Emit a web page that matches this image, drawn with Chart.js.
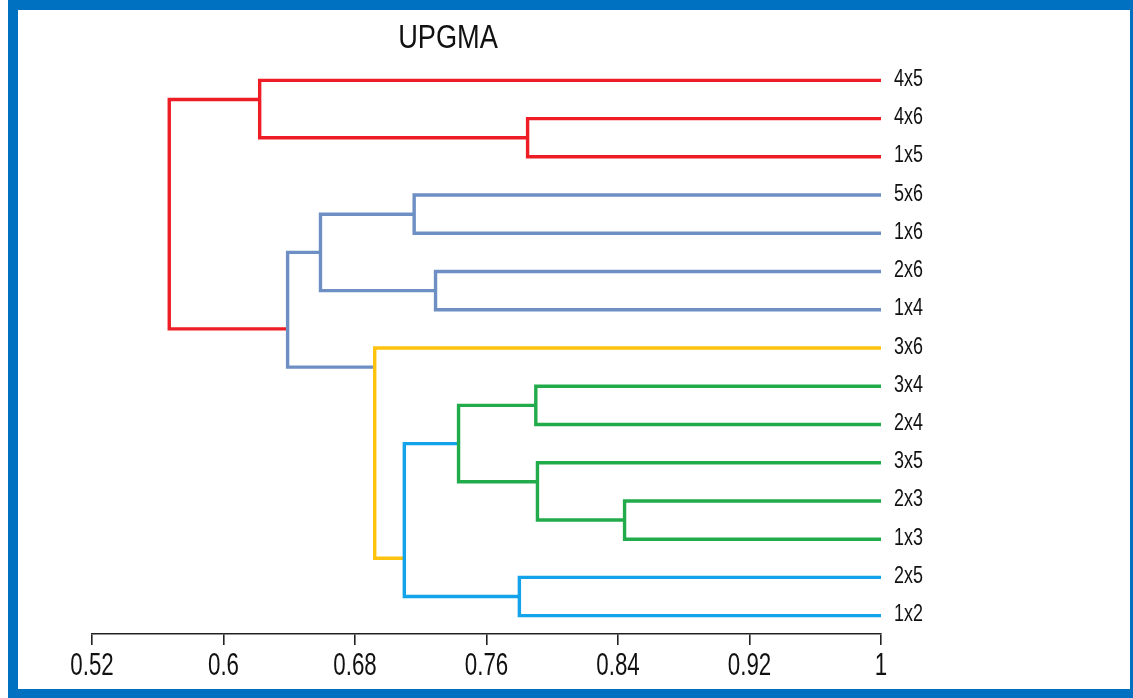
<!DOCTYPE html>
<html>
<head>
<meta charset="utf-8">
<script src="https://cdn.jsdelivr.net/npm/chart.js@4/dist/chart.umd.min.js"></script>
<style>
  html, body { margin: 0; padding: 0; background: #fff; overflow: hidden; }
  #wrap { position: relative; width: 1133px; height: 698px; }
  #frame {
    position: absolute; left: 8px; top: 0; width: 1112px; height: 679px;
    border: 10px solid #0070c0; pointer-events: none;
  }
</style>
</head>
<body>
<div id="wrap">
  <canvas id="dendro"></canvas>
  <div id="frame"></div>
</div>
<script>
// leaves, top to bottom
const leaves = ['4x5', '4x6', '1x5', '5x6', '1x6', '2x6', '1x4', '3x6', '3x4', '2x4', '3x5', '2x3', '1x3', '2x5', '1x2'];

// merges: id, joined children, similarity level, row where the node sits, branch colour
const mergeIds    = ['A', 'B', 'C', 'D', 'E', 'F', 'G', 'H', 'I', 'J', 'K', 'L', 'M', 'N'];
const mergeLeft   = ['4x6', '4x5', '5x6', '2x6', 'C', '3x4', '2x3', '3x5', 'F', '2x5', 'I', '3x6', 'E', 'B'];
const mergeRight  = ['1x5', 'A', '1x6', '1x4', 'D', '2x4', '1x3', 'G', 'H', '1x2', 'J', 'K', 'L', 'M'];
const mergeHeight = [0.785, 0.622, 0.716, 0.729, 0.659, 0.790, 0.844, 0.791, 0.743, 0.780, 0.710, 0.692, 0.639, 0.567];
const mergeRow    = [1.5, 0.5, 3.5, 5.5, 4.5, 8.5, 11.5, 10.5, 9.5, 13.5, 12.5, 7.5, 6.5, 3.5];
const mergeGroup  = ['red', 'red', 'blue', 'blue', 'blue', 'green', 'green', 'green', 'green', 'cyan', 'cyan', 'yellow', 'blue', 'red'];

const xTicks = [0.52, 0.6, 0.68, 0.76, 0.84, 0.92, 1];
const xTickLabels = ['0.52', '0.6', '0.68', '0.76', '0.84', '0.92', '1'];

const groupColors = {
    red: '#ee1c25',
    blue: '#6e8fc3',
    green: '#22ab4a',
    cyan: '#12a3ea',
    yellow: '#ffc20e'
};

const FONT = "'Liberation Sans', Arial, sans-serif";

// where each node sits: leaves at level 1 on their own row
function nodePos(name) {
    const li = leaves.indexOf(name);
    if (li >= 0) return { x: 1, y: li };
    const mi = mergeIds.indexOf(name);
    return { x: mergeHeight[mi], y: mergeRow[mi] };
}

const datasets = mergeIds.map((id, i) => {
    const a = nodePos(mergeLeft[i]);
    const b = nodePos(mergeRight[i]);
    const h = mergeHeight[i];
    return {
        label: id,
        data: [
            { x: a.x, y: a.y },
            { x: h, y: a.y },
            { x: h, y: b.y },
            { x: b.x, y: b.y }
        ],
        showLine: true,
        borderColor: groupColors[mergeGroup[i]],
        borderWidth: 3.4,
        borderJoinStyle: 'miter',
        borderCapStyle: 'butt',
        pointRadius: 0,
        fill: false,
        tension: 0,
        clip: 4
    };
});

// narrow text like the original (Arial squeezed sideways)
function narrowText(ctx, text, x, y, size, squeeze, align) {
    ctx.save();
    ctx.translate(x, y);
    ctx.scale(squeeze, 1);
    ctx.font = size + 'px ' + FONT;
    ctx.fillStyle = '#111';
    ctx.textAlign = align;
    ctx.textBaseline = 'alphabetic';
    ctx.fillText(text, 0, 0);
    ctx.restore();
}

const labelsPlugin = {
    id: 'dendroLabels',
    afterDraw: (chart) => {
        const ctx = chart.ctx;
        const area = chart.chartArea;
        const xs = chart.scales.x;
        const ys = chart.scales.y;
        narrowText(ctx, 'UPGMA', area.left + 356, 48, 34, 0.8, 'center');
        xTicks.forEach((v, i) => {
            narrowText(ctx, xTickLabels[i], xs.getPixelForValue(v), area.bottom + 41, 31, 0.72, 'center');
        });
        leaves.forEach((name, i) => {
            narrowText(ctx, name, area.right + 13, ys.getPixelForValue(i) + 5.5, 23, 0.78, 'left');
        });
    }
};

new Chart(document.getElementById('dendro'), {
    type: 'scatter',
    data: { datasets: datasets },
    options: {
        responsive: true,
        maintainAspectRatio: false,
        animation: false,
        layout: { padding: { left: 92, top: 62, right: 172, bottom: 0 } },
        plugins: {
            legend: { display: false },
            tooltip: { enabled: false },
            title: { display: false }
        },
        scales: {
            x: {
                type: 'linear',
                min: 0.52,
                max: 1,
                afterBuildTicks: (scale) => { scale.ticks = xTicks.map(v => ({ value: v })); },
                afterFit: (scale) => { scale.height = 64; },
                grid: { drawOnChartArea: false, drawTicks: true, tickLength: 11, color: '#222', lineWidth: 1.6 },
                border: { display: true, color: '#222', width: 1.6 },
                ticks: { display: false }
            },
            y: {
                type: 'linear',
                position: 'right',
                reverse: true,
                min: -0.48,
                max: 14.48,
                afterBuildTicks: (scale) => { scale.ticks = leaves.map((l, i) => ({ value: i })); },
                afterFit: (scale) => { scale.width = 80; },
                grid: { display: false, drawTicks: false },
                border: { display: false },
                ticks: { display: false }
            }
        }
    },
    plugins: [labelsPlugin]
});
</script>
</body>
</html>
